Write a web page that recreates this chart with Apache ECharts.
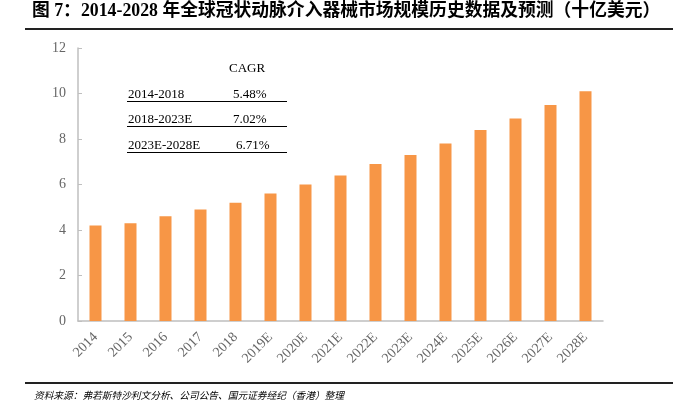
<!DOCTYPE html>
<html><head><meta charset="utf-8">
<script src="https://cdn.jsdelivr.net/npm/echarts@6/dist/echarts.min.js"></script>
<style>html,body{margin:0;padding:0;background:#fff}#c{width:673px;height:416px}</style>
</head><body><div id="c"></div>
<script>
const categories = ['2014','2015','2016','2017','2018','2019E','2020E','2021E','2022E','2023E','2024E','2025E','2026E','2027E','2028E'];
const marketSize = [4.2,4.3,4.6,4.9,5.2,5.6,6.0,6.4,6.9,7.3,7.8,8.4,8.9,9.5,10.1];
const yTicks = [0,2,4,6,8,10,12];
const cagrPeriods = ['2014-2018','2018-2023E','2023E-2028E'];
const cagrValues = ['5.48%','7.02%','6.71%'];
const titleText = '图 7：2014-2028 年全球冠状动脉介入器械市场规模历史数据及预测（十亿美元）';
const sourceText = '资料来源：弗若斯特沙利文分析、公司公告、国元证券经纪（香港）整理';

const chart = echarts.init(document.getElementById('c'));
const serif = '"Liberation Serif","Times New Roman",serif';
const graphics = [
  {type:'text', left:32, top:3, style:{text:titleText, font:'bold 17.8px "Liberation Serif","Noto Sans CJK SC",serif', fill:'#000'}},
  {type:'line', shape:{x1:25,y1:29,x2:673,y2:29}, style:{stroke:'#222', lineWidth:2}},
  {type:'line', shape:{x1:25,y1:383,x2:673,y2:383}, style:{stroke:'#222', lineWidth:2}},
  {type:'text', left:34, top:390, style:{text:sourceText, font:'italic 9.7px "Noto Sans CJK SC",sans-serif', fill:'#000'}},
  {type:'text', left:229, top:62, style:{text:'CAGR', font:'13px '+serif, fill:'#000'}}
];
const rowY = [88, 113, 139];
cagrPeriods.forEach((p,i)=>{
  graphics.push({type:'text', left:128, top:rowY[i], style:{text:p, font:'13px '+serif, fill:'#000'}});
  graphics.push({type:'text', left:i===2?236:233, top:rowY[i], style:{text:cagrValues[i], font:'13px '+serif, fill:'#000'}});
  graphics.push({type:'line', shape:{x1:127,y1:rowY[i]+13.5,x2:287,y2:rowY[i]+13.5}, style:{stroke:'#000', lineWidth:1}});
});

chart.setOption({
  animation:false,
  grid:{left:78, right:70, top:48, bottom:95},
  xAxis:{type:'category', data:categories,
    axisLine:{lineStyle:{color:'#bfbfbf', width:1.5}},
    axisTick:{inside:true, length:4, lineStyle:{color:'#bfbfbf'}},
    axisLabel:{rotate:45, color:'#666', fontFamily:serif, fontSize:14, margin:14}},
  yAxis:{type:'value', min:0, max:12, interval:2,
    axisLine:{show:true, lineStyle:{color:'#bfbfbf', width:1.5}},
    axisTick:{show:true, inside:true, length:4, lineStyle:{color:'#bfbfbf'}},
    splitLine:{show:false},
    axisLabel:{color:'#666', fontFamily:serif, fontSize:14, margin:12,
      formatter:v=>yTicks.includes(v)?String(v):''}},
  series:[{type:'bar', data:marketSize, barWidth:12, itemStyle:{color:'#F79646'}}],
  graphic:graphics
});
</script></body></html>
